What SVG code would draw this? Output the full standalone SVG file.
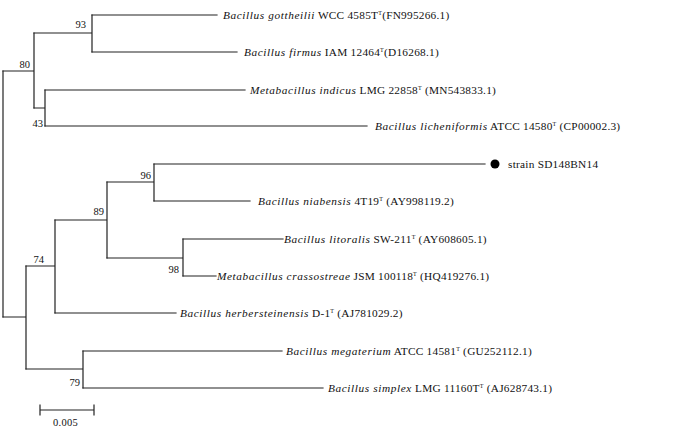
<svg xmlns="http://www.w3.org/2000/svg" width="700" height="438" viewBox="0 0 700 438">
<style>
.br{stroke:#222;stroke-width:1.2;fill:none;stroke-linecap:square}
.lb{font-family:"Liberation Serif","Times New Roman",serif;font-size:11.3px;fill:#111;letter-spacing:0.25px}
.sp{font-style:italic;letter-spacing:0.6px}
.bs{font-family:"Liberation Serif","Times New Roman",serif;font-size:10.5px;fill:#111;text-anchor:end}
.sup{font-size:6px}
</style>
<rect width="700" height="438" fill="#fff"/>
<g id="connectors" class="br">
<path d="M3,71V317"/>
<path d="M3,71H34M34,33V108"/>
<path d="M34,33H92M92,15V52"/>
<path d="M34,108H45M45,90V126"/>
<path d="M3,317H26M26,266V369"/>
<path d="M26,266H55M55,220V313"/>
<path d="M55,220H107M107,182V258"/>
<path d="M107,182H154M154,164V201"/>
<path d="M107,258H183M183,239V276"/>
<path d="M26,369H83M83,351V388"/>
<path d="M92,15H217"/>
<path d="M92,52H237"/>
<path d="M45,90H245"/>
<path d="M45,126H367"/>
<path d="M154,164H485"/>
<path d="M154,201H250"/>
<path d="M183,239H283"/>
<path d="M183,276H216"/>
<path d="M55,313H176"/>
<path d="M83,351H282"/>
<path d="M83,388H323"/>
</g>
<g id="bootstrap">
<text class="bs" x="86" y="28">93</text>
<text class="bs" x="30" y="67.5">80</text>
<text class="bs" x="43" y="127">43</text>
<text class="bs" x="151" y="179">96</text>
<text class="bs" x="104" y="215">89</text>
<text class="bs" x="44" y="263">74</text>
<text class="bs" x="179" y="273">98</text>
<text class="bs" x="80" y="386">79</text>
</g>
<g id="n1"><text class="lb" x="223" y="19"><tspan class="sp">Bacillus gottheilii</tspan> WCC 4585T<tspan class="sup" dy="-4">T</tspan><tspan dy="4">(FN995266.1)</tspan></text></g>
<g id="n2"><text class="lb" x="244" y="56"><tspan class="sp">Bacillus firmus</tspan> IAM 12464<tspan class="sup" dy="-4">T</tspan><tspan dy="4">(D16268.1)</tspan></text></g>
<g id="n3"><text class="lb" x="250" y="94"><tspan class="sp">Metabacillus indicus</tspan> LMG 22858<tspan class="sup" dy="-4">T</tspan><tspan dy="4"> (MN543833.1)</tspan></text></g>
<g id="n4"><text class="lb" x="375" y="130"><tspan class="sp">Bacillus licheniformis</tspan> ATCC 14580<tspan class="sup" dy="-4">T</tspan><tspan dy="4"> (CP00002.3)</tspan></text></g>
<g id="n5"><circle cx="495" cy="164" r="4.5" fill="#000"/><text class="lb" x="508" y="168">strain SD148BN14</text></g>
<g id="n6"><text class="lb" x="258" y="205"><tspan class="sp">Bacillus niabensis</tspan> 4T19<tspan class="sup" dy="-4">T</tspan><tspan dy="4"> (AY998119.2)</tspan></text></g>
<g id="n7"><text class="lb" x="284" y="243"><tspan class="sp">Bacillus litoralis</tspan> SW-211<tspan class="sup" dy="-4">T</tspan><tspan dy="4"> (AY608605.1)</tspan></text></g>
<g id="n8"><text class="lb" x="217" y="280"><tspan class="sp">Metabacillus crassostreae</tspan> JSM 100118<tspan class="sup" dy="-4">T</tspan><tspan dy="4"> (HQ419276.1)</tspan></text></g>
<g id="n9"><text class="lb" x="180" y="317"><tspan class="sp">Bacillus herbersteinensis</tspan> D-1<tspan class="sup" dy="-4">T</tspan><tspan dy="4"> (AJ781029.2)</tspan></text></g>
<g id="n10"><text class="lb" x="286" y="355"><tspan class="sp">Bacillus megaterium</tspan> ATCC 14581<tspan class="sup" dy="-4">T</tspan><tspan dy="4"> (GU252112.1)</tspan></text></g>
<g id="n11"><text class="lb" x="328" y="392"><tspan class="sp">Bacillus simplex</tspan> LMG 11160T<tspan class="sup" dy="-4">T</tspan><tspan dy="4"> (AJ628743.1)</tspan></text></g>
<g id="scale">
<path class="br" d="M40,410H94M40,405V415M94,405V415"/>
<text class="lb" x="53" y="426" style="font-size:10.5px">0.005</text>
</g>
</svg>
